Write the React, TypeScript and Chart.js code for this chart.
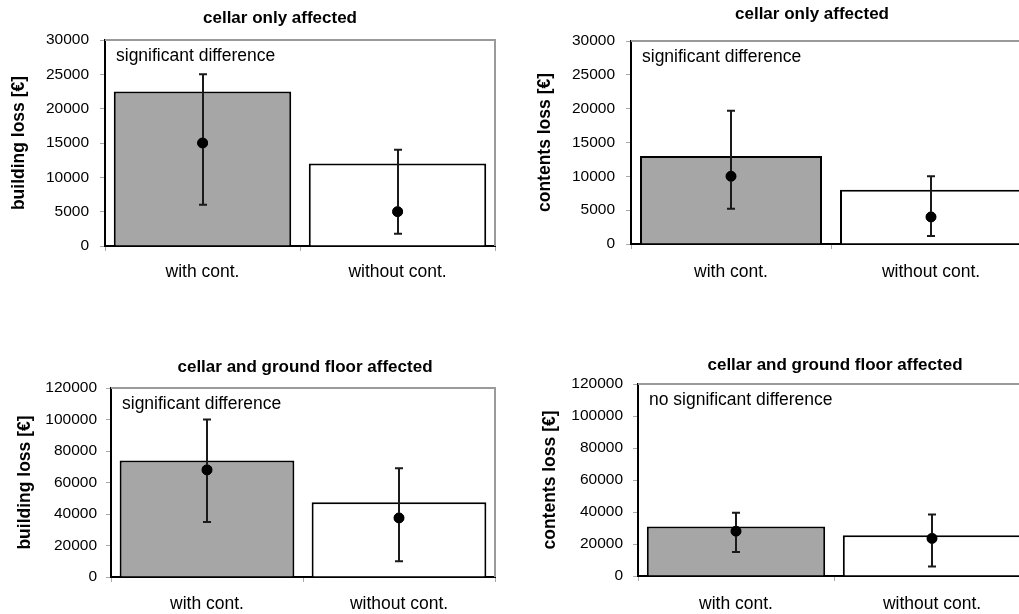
import React, { useEffect, useRef } from "react";
import { Chart, registerables } from "chart.js";

Chart.register(...registerables);

// ---------- data ----------
const categories = ["with cont.", "without cont."];

const titleCellar = "cellar only affected";
const titleGround = "cellar and ground floor affected";
const yTitleBuilding = "building loss [€]";
const yTitleContents = "contents loss [€]";
const noteSig = "significant difference";
const noteNoSig = "no significant difference";

// cellar only, building loss
const cellarBuildingBars = [22500, 12000];
const cellarBuildingPoints = [15000, 5000];
const cellarBuildingLow = [6000, 1800];
const cellarBuildingHigh = [25000, 14000];

// cellar only, contents loss
const cellarContentsBars = [13000, 8000];
const cellarContentsPoints = [10000, 4000];
const cellarContentsLow = [5200, 1200];
const cellarContentsHigh = [19700, 10000];

// cellar and ground floor, building loss
const groundBuildingBars = [74000, 47500];
const groundBuildingPoints = [68000, 37500];
const groundBuildingLow = [35000, 10000];
const groundBuildingHigh = [100000, 69000];

// cellar and ground floor, contents loss
const groundContentsBars = [31000, 25500];
const groundContentsPoints = [28000, 23500];
const groundContentsLow = [15000, 6000];
const groundContentsHigh = [39500, 38500];

const yMaxCellar = 30000;
const yStepCellar = 5000;
const yMaxGround = 120000;
const yStepGround = 20000;

const barColors = ["#a6a6a6", "#ffffff"];

const FONT = "'Liberation Sans', Arial, sans-serif";

type Panel = {
  title: string;
  yTitle: string;
  note: string;
  bars: number[];
  points: number[];
  low: number[];
  high: number[];
  yMax: number;
  yStep: number;
  // layout
  left: number;
  top: number;
  width: number;
  height: number;
  padTop: number;
  padRight: number;
  yWidth: number;
  xHeight: number;
  titleX: number;
  titleY: number;
  yTitlePad: number;
  xLabelPad: number;
  yLabelPad: number;
};

const panels: Panel[] = [
  {
    title: titleCellar, yTitle: yTitleBuilding, note: noteSig,
    bars: cellarBuildingBars, points: cellarBuildingPoints, low: cellarBuildingLow, high: cellarBuildingHigh,
    yMax: yMaxCellar, yStep: yStepCellar,
    left: 0, top: 0, width: 560, height: 290, padTop: 40, padRight: 65, yWidth: 105, xHeight: 44,
    titleX: 280, titleY: 18, yTitlePad: 8.5, xLabelPad: 11, yLabelPad: 11,
  },
  {
    title: titleCellar, yTitle: yTitleContents, note: noteSig,
    bars: cellarContentsBars, points: cellarContentsPoints, low: cellarContentsLow, high: cellarContentsHigh,
    yMax: yMaxCellar, yStep: yStepCellar,
    left: 520, top: 0, width: 584, height: 290, padTop: 41, padRight: 73, yWidth: 111, xHeight: 46,
    titleX: 812, titleY: 14, yTitlePad: 14.5, xLabelPad: 13, yLabelPad: 11,
  },
  {
    title: titleGround, yTitle: yTitleBuilding, note: noteSig,
    bars: groundBuildingBars, points: groundBuildingPoints, low: groundBuildingLow, high: groundBuildingHigh,
    yMax: yMaxGround, yStep: yStepGround,
    left: 0, top: 345, width: 610, height: 269, padTop: 43, padRight: 115, yWidth: 111, xHeight: 37,
    titleX: 305, titleY: 367.5, yTitlePad: 14.5, xLabelPad: 12, yLabelPad: 9,
  },
  {
    title: titleGround, yTitle: yTitleContents, note: noteNoSig,
    bars: groundContentsBars, points: groundContentsPoints, low: groundContentsLow, high: groundContentsHigh,
    yMax: yMaxGround, yStep: yStepGround,
    left: 525, top: 345, width: 620, height: 269, padTop: 39, padRight: 115, yWidth: 113, xHeight: 38,
    titleX: 835, titleY: 365.5, yTitlePad: 14.5, xLabelPad: 13, yLabelPad: 10,
  },
];

function ChartPanel({ p }: { p: Panel }) {
  const ref = useRef<HTMLCanvasElement | null>(null);

  useEffect(() => {
    if (!ref.current) return;

    const framePlugin = {
      id: "frame",
      beforeDatasetsDraw(chart: any) {
        const { ctx, chartArea } = chart;
        ctx.save();
        ctx.strokeStyle = "#9a9a9a";
        ctx.lineWidth = 2;
        ctx.beginPath();
        ctx.moveTo(chartArea.left, chartArea.top);
        ctx.lineTo(chartArea.right, chartArea.top);
        ctx.lineTo(chartArea.right, chartArea.bottom);
        ctx.stroke();
        ctx.restore();
      },
    };

    const errorPlugin = {
      id: "errbars",
      afterDatasetsDraw(chart: any) {
        const { ctx } = chart;
        const xs = chart.scales.x;
        const ys = chart.scales.y;
        ctx.save();
        ctx.strokeStyle = "#1a1a1a";
        ctx.lineWidth = 2;
        for (let i = 0; i < categories.length; i++) {
          const x = Math.round(xs.getPixelForValue(i));
          const y1 = ys.getPixelForValue(p.low[i]);
          const y2 = ys.getPixelForValue(p.high[i]);
          ctx.beginPath();
          ctx.moveTo(x, y1);
          ctx.lineTo(x, y2);
          ctx.moveTo(x - 4, y1);
          ctx.lineTo(x + 4, y1);
          ctx.moveTo(x - 4, y2);
          ctx.lineTo(x + 4, y2);
          ctx.stroke();
        }
        ctx.fillStyle = "#000";
        for (let i = 0; i < categories.length; i++) {
          const x = Math.round(xs.getPixelForValue(i));
          const y = ys.getPixelForValue(p.points[i]);
          ctx.beginPath();
          ctx.arc(x, y, 5, 0, Math.PI * 2);
          ctx.fill();
        }
        ctx.font = `17.5px ${FONT}`;
        ctx.textBaseline = "middle";
        ctx.textAlign = "left";
        ctx.fillText(p.note, chart.chartArea.left + 11, chart.chartArea.top + 16);
        // panel title
        ctx.font = `bold 17px ${FONT}`;
        ctx.textAlign = "center";
        ctx.fillText(p.title, p.titleX - p.left, p.titleY - p.top);
        ctx.restore();
      },
    };

    const chart = new Chart(ref.current, {
      type: "bar",
      data: {
        labels: categories,
        datasets: [
          {
            type: "line",
            data: p.points,
            showLine: false,
            pointRadius: 5,
            pointBackgroundColor: "#000",
            pointBorderColor: "#000",
            order: 0,
          } as any,
          {
            type: "bar",
            data: p.bars,
            backgroundColor: barColors,
            borderColor: "#000",
            borderWidth: 2,
            barPercentage: 0.91,
            categoryPercentage: 1,
            order: 1,
          },
        ],
      },
      options: {
        responsive: false,
        animation: false,
        devicePixelRatio: 1,
        layout: { padding: { left: 0, right: p.padRight, top: p.padTop, bottom: 0 } },
        plugins: {
          legend: { display: false },
          tooltip: { enabled: false },
          title: { display: false },
        },
        scales: {
          x: {
            offset: true,
            afterFit: (s: any) => {
              s.height = p.xHeight;
            },
            grid: {
              offset: true,
              drawOnChartArea: false,
              drawTicks: true,
              tickLength: 5,
              color: "#aaaaaa",
            },
            border: { display: true, color: "#000", width: 2 },
            ticks: {
              color: "#000",
              font: { family: FONT, size: 17.5 },
              padding: p.xLabelPad,
              maxRotation: 0,
            },
          },
          y: {
            min: 0,
            max: p.yMax,
            afterFit: (s: any) => {
              s.width = p.yWidth;
            },
            grid: {
              drawOnChartArea: false,
              drawTicks: true,
              tickLength: 5,
              color: "#aaaaaa",
            },
            border: { display: true, color: "#000", width: 2 },
            ticks: {
              stepSize: p.yStep,
              color: "#000",
              font: { family: FONT, size: 15.5 },
              padding: p.yLabelPad,
              callback: (v: any) => String(v),
            },
            title: {
              display: true,
              text: p.yTitle,
              color: "#000",
              font: { family: FONT, size: 17.5, weight: "bold", lineHeight: 1.2 },
              padding: { top: p.yTitlePad, bottom: 0 },
            },
          },
        },
      },
      plugins: [framePlugin, errorPlugin],
    });

    return () => chart.destroy();
  }, [p]);

  return (
    <canvas
      ref={ref}
      width={p.width}
      height={p.height}
      style={{
        position: "absolute",
        left: p.left,
        top: p.top,
        width: p.width,
        height: p.height,
      }}
    />
  );
}

export default function App() {
  return (
    <div
      style={{
        position: "absolute",
        left: 0,
        top: 0,
        width: 1019,
        height: 614,
        overflow: "hidden",
        background: "#fff",
      }}
    >
      {panels.map((p, i) => (
        <ChartPanel key={i} p={p} />
      ))}
    </div>
  );
}
